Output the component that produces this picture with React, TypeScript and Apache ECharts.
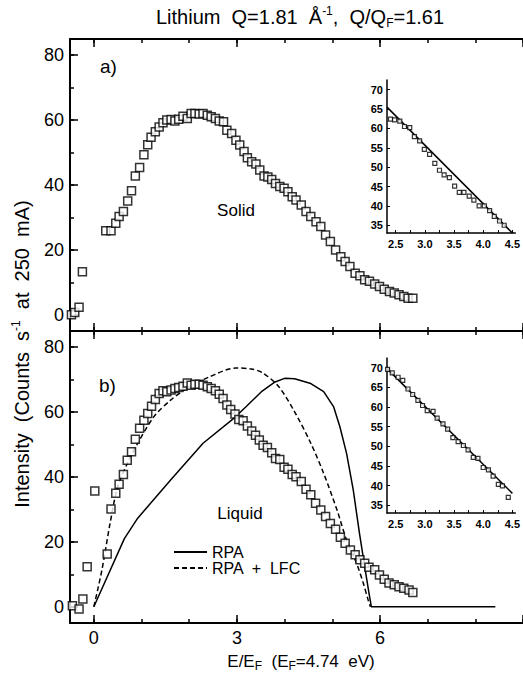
import React, { useEffect, useRef } from 'react';
import * as echarts from 'echarts';

// ---- Data ----
// Panel a) Solid: E/EF vs intensity
const solidX = [-0.47, -0.4, -0.31, -0.24, 0.25, 0.36, 0.46, 0.53, 0.62, 0.71, 0.79, 0.87, 0.96, 1.05, 1.13, 1.2, 1.29, 1.37, 1.45, 1.53, 1.62, 1.7, 1.78, 1.87, 1.96, 2.04, 2.12, 2.21, 2.29, 2.38, 2.46, 2.55, 2.63, 2.72, 2.79, 2.89, 2.98, 3.06, 3.15, 3.22, 3.31, 3.4, 3.48, 3.57, 3.65, 3.73, 3.81, 3.9, 3.99, 4.07, 4.16, 4.24, 4.35, 4.45, 4.55, 4.66, 4.76, 4.86, 4.96, 5.07, 5.18, 5.27, 5.37, 5.48, 5.58, 5.68, 5.78, 5.89, 5.99, 6.09, 6.2, 6.3, 6.4, 6.5, 6.59, 6.69];
const solidY = [0, 0.7, 2.3, 13.3, 25.9, 25.9, 28.2, 30.3, 31.8, 35.1, 38.2, 42.8, 45.4, 49.3, 52.4, 54.7, 56.4, 57.9, 59.2, 60.0, 60.2, 59.7, 60.3, 61.2, 60.5, 62.0, 62.0, 61.9, 62.0, 61.5, 61.0, 60.5, 59.7, 59.5, 56.9, 55.9, 53.8, 52.3, 50.3, 48.4, 47.2, 46.5, 44.6, 42.8, 42.5, 41.7, 40.5, 39.5, 39.0, 37.9, 36.4, 35.4, 33.8, 31.8, 30.3, 28.7, 27.2, 24.6, 22.6, 20.0, 17.9, 16.4, 14.9, 12.8, 12.0, 10.8, 10.3, 9.5, 8.7, 7.9, 7.2, 6.7, 6.2, 5.6, 5.1, 5.1];

// Panel b) Liquid
const liquidX = [-0.45, -0.31, -0.23, -0.14, 0.02, 0.28, 0.36, 0.46, 0.53, 0.62, 0.7, 0.79, 0.87, 0.96, 1.05, 1.13, 1.21, 1.29, 1.37, 1.45, 1.53, 1.62, 1.7, 1.78, 1.87, 1.96, 2.04, 2.12, 2.21, 2.29, 2.38, 2.46, 2.55, 2.63, 2.71, 2.79, 2.87, 2.96, 3.04, 3.13, 3.22, 3.31, 3.39, 3.47, 3.55, 3.64, 3.73, 3.81, 3.9, 3.99, 4.07, 4.16, 4.24, 4.35, 4.45, 4.55, 4.65, 4.76, 4.86, 4.96, 5.07, 5.17, 5.27, 5.38, 5.48, 5.58, 5.68, 5.77, 5.89, 5.99, 6.09, 6.19, 6.3, 6.4, 6.5, 6.61, 6.69];
const liquidY = [0.3, -0.7, 2.4, 12.3, 35.7, 16.3, 30.1, 35.0, 37.8, 40.8, 45.2, 47.8, 51.6, 55.0, 57.5, 59.6, 61.8, 63.9, 65.7, 66.6, 66.3, 66.8, 67.3, 67.6, 68.0, 69.0, 68.3, 68.6, 68.6, 68.3, 67.8, 67.3, 66.6, 65.5, 64.2, 62.2, 60.8, 59.4, 57.7, 57.3, 55.7, 54.2, 52.9, 51.4, 49.8, 49.1, 47.5, 45.7, 45.4, 43.0, 42.4, 40.8, 40.1, 38.6, 36.2, 34.5, 31.9, 29.8, 27.8, 25.7, 23.9, 21.4, 19.6, 17.5, 16.0, 14.5, 13.4, 12.2, 11.4, 9.8, 8.5, 7.3, 6.8, 6.2, 5.7, 5.2, 4.4];

// RPA (solid line) and RPA + LFC (dashed line)
const rpaX = [0, 0.64, 0.92, 1.61, 2.29, 2.96, 3.18, 3.53, 3.8, 4.0, 4.21, 4.55, 4.82, 5.03, 5.16, 5.3, 5.44, 5.57, 5.68, 5.77, 5.82, 8.42];
const rpaY = [0, 21.0, 27.3, 39.1, 50.4, 58.4, 61.5, 66.5, 69.3, 70.4, 70.3, 68.8, 66.3, 61.6, 55.5, 47.3, 36.0, 22.7, 12.4, 4.2, 0, 0];
const lfcX = [0, 0.17, 0.34, 0.5, 0.72, 0.92, 1.26, 1.61, 1.95, 2.43, 2.98, 3.3, 3.53, 3.87, 4.21, 4.55, 4.82, 5.1, 5.3, 5.51, 5.65, 5.75, 5.8];
const lfcY = [0, 11.4, 25.7, 37.0, 44.7, 50.4, 58.6, 63.7, 67.3, 70.9, 73.6, 73.3, 72.2, 68.0, 60.1, 50.4, 41.1, 29.8, 20.6, 13.4, 7.3, 2.2, 0];

// Insets
const insetSolidX = [2.41, 2.48, 2.57, 2.65, 2.74, 2.82, 2.91, 2.99, 3.08, 3.17, 3.25, 3.33, 3.42, 3.51, 3.59, 3.67, 3.76, 3.84, 3.93, 4.02, 4.11, 4.19, 4.28, 4.36];
const insetSolidY = [62.4, 62.2, 61.9, 60.5, 60.2, 57.9, 56.8, 54.6, 53.3, 51.0, 49.2, 48.0, 47.3, 45.1, 43.5, 43.5, 42.5, 41.5, 40.0, 40.0, 38.8, 37.3, 36.1, 35.0];
const insetSolidFitX = [2.35, 4.5];
const insetSolidFitY = [65.5, 33.0];
const insetLiquidX = [2.36, 2.44, 2.54, 2.62, 2.71, 2.79, 2.88, 2.96, 3.04, 3.14, 3.21, 3.31, 3.39, 3.48, 3.57, 3.66, 3.74, 3.83, 3.91, 4.0, 4.09, 4.17, 4.26, 4.33, 4.43];
const insetLiquidY = [69.6, 68.7, 67.6, 66.8, 64.6, 63.2, 61.7, 60.4, 59.1, 58.9, 57.2, 55.7, 54.4, 52.2, 51.2, 50.2, 49.1, 47.2, 46.9, 44.6, 44.0, 42.4, 40.3, 39.9, 37.0];
const insetLiquidFitX = [2.35, 4.5];
const insetLiquidFitY = [69.8, 38.0];

// Tick values / labels
const xMinorTicks = [0, 1, 2, 3, 4, 5, 6, 7, 8, 9];
const xMajorTicks = [0, 3, 6, 9];
const xTickLabels = [0, 3, 6];
const yMinorTicks = [0, 10, 20, 30, 40, 50, 60, 70, 80];
const yMajorTicks = [0, 20, 40, 60, 80];
const yTickLabels = [0, 20, 40, 60, 80];
const insetXTicks = [2.5, 2.75, 3.0, 3.25, 3.5, 3.75, 4.0, 4.25, 4.5];
const insetXLabels = [2.5, 3.0, 3.5, 4.0, 4.5];
const insetYTicks = [35, 40, 45, 50, 55, 60, 65, 70];
const insetYLabels = [35, 40, 45, 50, 55, 60, 65, 70];

const pairs = (xs: number[], ys: number[]) => xs.map((x, i) => [x, ys[i]]);

const FONT = "'Liberation Sans', Arial, sans-serif";
const BLACK = '#000';

const mainXAxis = (gridIndex: number, position: string, opts: { line: boolean; ticks: number[]; len: number; labels?: number[] }) => ({
  type: 'value', gridIndex, position, min: -0.5, max: 9,
  axisLine: { show: opts.line, onZero: false, lineStyle: { color: BLACK, width: 2 } },
  axisTick: { show: true, inside: true, length: opts.len, customValues: opts.ticks, lineStyle: { color: BLACK, width: 1.5 } },
  axisLabel: opts.labels
    ? { show: true, customValues: opts.labels, margin: 6, color: BLACK, fontSize: 18, fontFamily: FONT }
    : { show: false },
  splitLine: { show: false },
});

const mainYAxis = (gridIndex: number, opts: { line: boolean; ticks: number[]; len: number; labels?: number[] }) => ({
  type: 'value', gridIndex, position: 'left', min: -5, max: 85,
  axisLine: { show: opts.line, onZero: false, lineStyle: { color: BLACK, width: 2 } },
  axisTick: { show: true, inside: true, length: opts.len, customValues: opts.ticks, lineStyle: { color: BLACK, width: 1.5 } },
  axisLabel: opts.labels
    ? { show: true, customValues: opts.labels, margin: 6, color: BLACK, fontSize: 18, fontFamily: FONT }
    : { show: false },
  splitLine: { show: false },
});

const insetXAxis = (gridIndex: number) => ({
  type: 'value', gridIndex, position: 'bottom', min: 2.35, max: 4.55,
  axisLine: { show: true, onZero: false, lineStyle: { color: BLACK, width: 1.5 } },
  axisTick: { show: true, inside: true, length: 3, customValues: insetXTicks, lineStyle: { color: BLACK, width: 1 } },
  axisLabel: { show: true, customValues: insetXLabels, margin: 5, color: BLACK, fontSize: 11, fontWeight: 'bold', fontFamily: FONT, formatter: (v: number) => v.toFixed(1) },
  splitLine: { show: false },
});

const insetYAxis = (gridIndex: number) => ({
  type: 'value', gridIndex, position: 'left', min: 33, max: 72.5,
  axisLine: { show: true, onZero: false, lineStyle: { color: BLACK, width: 1.5 } },
  axisTick: { show: true, inside: true, length: 3, customValues: insetYTicks, lineStyle: { color: BLACK, width: 1 } },
  axisLabel: { show: true, customValues: insetYLabels, margin: 4, color: BLACK, fontSize: 11, fontWeight: 'bold', fontFamily: FONT },
  splitLine: { show: false },
});

const squareStyle = { color: '#fff', borderColor: BLACK, borderWidth: 1.5 };
const smallSquareStyle = { color: '#fff', borderColor: BLACK, borderWidth: 1.2 };

const richStyles = {
  sup: { fontSize: 12, lineHeight: 12, verticalAlign: 'top', fontFamily: FONT, fill: BLACK },
  sub: { fontSize: 12, lineHeight: 12, verticalAlign: 'bottom', fontFamily: FONT, fill: BLACK },
};

export default function App() {
  const ref = useRef<HTMLDivElement>(null);

  useEffect(() => {
    document.body.style.margin = '0';
    if (!ref.current) return;
    const chart = echarts.init(ref.current, undefined, { renderer: 'svg' });

    const option: any = {
      animation: false,
      backgroundColor: '#fff',
      textStyle: { fontFamily: FONT, color: BLACK },
      grid: [
        { left: 70, top: 39, width: 463, height: 292 },   // 0 top panel
        { left: 70, top: 39, width: 463, height: 292 },   // 1 top overlay (major ticks)
        { left: 70, top: 331, width: 463, height: 292 },  // 2 bottom panel
        { left: 70, top: 331, width: 463, height: 292 },  // 3 bottom overlay
        { left: 387, top: 80, width: 132, height: 153 },  // 4 top inset
        { left: 387, top: 358, width: 132, height: 155 }, // 5 bottom inset
      ],
      xAxis: [
        mainXAxis(0, 'bottom', { line: true, ticks: xMinorTicks, len: 4 }),
        mainXAxis(0, 'top', { line: true, ticks: xMinorTicks, len: 4 }),
        mainXAxis(1, 'bottom', { line: false, ticks: xMajorTicks, len: 8 }),
        mainXAxis(1, 'top', { line: false, ticks: xMajorTicks, len: 8 }),
        mainXAxis(2, 'bottom', { line: true, ticks: xMinorTicks, len: 4, labels: xTickLabels }),
        mainXAxis(2, 'top', { line: true, ticks: xMinorTicks, len: 4 }),
        mainXAxis(3, 'bottom', { line: false, ticks: xMajorTicks, len: 8 }),
        mainXAxis(3, 'top', { line: false, ticks: xMajorTicks, len: 8 }),
        insetXAxis(4),
        insetXAxis(5),
      ],
      yAxis: [
        mainYAxis(0, { line: true, ticks: yMinorTicks, len: 4, labels: yTickLabels }),
        mainYAxis(1, { line: false, ticks: yMajorTicks, len: 8 }),
        mainYAxis(2, { line: true, ticks: yMinorTicks, len: 4, labels: yTickLabels }),
        mainYAxis(3, { line: false, ticks: yMajorTicks, len: 8 }),
        insetYAxis(4),
        insetYAxis(5),
      ],
      legend: {
        data: ['RPA', 'RPA  +  LFC'],
        orient: 'vertical',
        left: 168,
        top: 539,
        itemWidth: 33,
        itemHeight: 14,
        itemGap: 0,
        selectedMode: false,
        itemStyle: { opacity: 0, color: 'transparent', borderColor: 'transparent', borderWidth: 0 },
        textStyle: { fontSize: 16, lineHeight: 14, color: BLACK, fontFamily: FONT },
      },
      series: [
        {
          name: 'Solid', type: 'scatter', xAxisIndex: 0, yAxisIndex: 0, z: 3,
          symbol: 'rect', symbolSize: 8, itemStyle: squareStyle,
          data: pairs(solidX, solidY),
        },
        {
          name: 'RPA', type: 'line', xAxisIndex: 4, yAxisIndex: 2, z: 2,
          symbol: 'none', showSymbol: false,
          lineStyle: { color: BLACK, width: 1.5, type: 'solid' },
          itemStyle: { color: BLACK },
          data: pairs(rpaX, rpaY),
        },
        {
          name: 'RPA  +  LFC', type: 'line', xAxisIndex: 4, yAxisIndex: 2, z: 2,
          symbol: 'none', showSymbol: false, smooth: 0.3,
          lineStyle: { color: BLACK, width: 1.5, type: [5, 3] },
          itemStyle: { color: BLACK },
          data: pairs(lfcX, lfcY),
        },
        {
          name: 'Liquid', type: 'scatter', xAxisIndex: 4, yAxisIndex: 2, z: 3,
          symbol: 'rect', symbolSize: 8, itemStyle: squareStyle,
          data: pairs(liquidX, liquidY),
        },
        {
          name: 'Solid fit', type: 'line', xAxisIndex: 8, yAxisIndex: 4, z: 2,
          symbol: 'none', lineStyle: { color: BLACK, width: 1.5 },
          data: pairs(insetSolidFitX, insetSolidFitY),
        },
        {
          name: 'Solid inset', type: 'scatter', xAxisIndex: 8, yAxisIndex: 4, z: 3,
          symbol: 'rect', symbolSize: 4, itemStyle: smallSquareStyle,
          data: pairs(insetSolidX, insetSolidY),
        },
        {
          name: 'Liquid fit', type: 'line', xAxisIndex: 9, yAxisIndex: 5, z: 2,
          symbol: 'none', lineStyle: { color: BLACK, width: 1.5 },
          data: pairs(insetLiquidFitX, insetLiquidFitY),
        },
        {
          name: 'Liquid inset', type: 'scatter', xAxisIndex: 9, yAxisIndex: 5, z: 3,
          symbol: 'rect', symbolSize: 4, itemStyle: smallSquareStyle,
          data: pairs(insetLiquidX, insetLiquidY),
        },
      ],
      graphic: [
        {
          type: 'text', x: 300, y: 17,
          style: {
            text: 'Lithium  Q=1.81  Å{sup|-1},  Q/Q{sub|F}=1.61',
            fontSize: 20, fontFamily: FONT, fill: BLACK, lineHeight: 24,
            align: 'center', verticalAlign: 'middle', rich: richStyles,
          },
        },
        {
          type: 'text', x: 22, y: 354, rotation: Math.PI / 2,
          style: {
            text: 'Intensity  (Counts  s{sup|-1}  at  250  mA)',
            fontSize: 20, fontFamily: FONT, fill: BLACK, lineHeight: 24,
            align: 'center', verticalAlign: 'middle', rich: richStyles,
          },
        },
        {
          type: 'text', x: 301, y: 661,
          style: {
            text: 'E/E{sub|F}  (E{sub|F}=4.74  eV)',
            fontSize: 17, fontFamily: FONT, fill: BLACK, lineHeight: 22,
            align: 'center', verticalAlign: 'middle', rich: richStyles,
          },
        },
        { type: 'text', x: 100, y: 66, style: { text: 'a)', fontSize: 19, fontFamily: FONT, fill: BLACK, verticalAlign: 'middle' } },
        { type: 'text', x: 99, y: 385, style: { text: 'b)', fontSize: 19, fontFamily: FONT, fill: BLACK, verticalAlign: 'middle' } },
        { type: 'text', x: 236, y: 210, style: { text: 'Solid', fontSize: 17, fontFamily: FONT, fill: BLACK, align: 'center', verticalAlign: 'middle' } },
        { type: 'text', x: 240, y: 513, style: { text: 'Liquid', fontSize: 17, fontFamily: FONT, fill: BLACK, align: 'center', verticalAlign: 'middle' } },
      ],
    };

    chart.setOption(option);
    return () => chart.dispose();
  }, []);

  return <div ref={ref} style={{ width: 523, height: 679 }} />;
}
